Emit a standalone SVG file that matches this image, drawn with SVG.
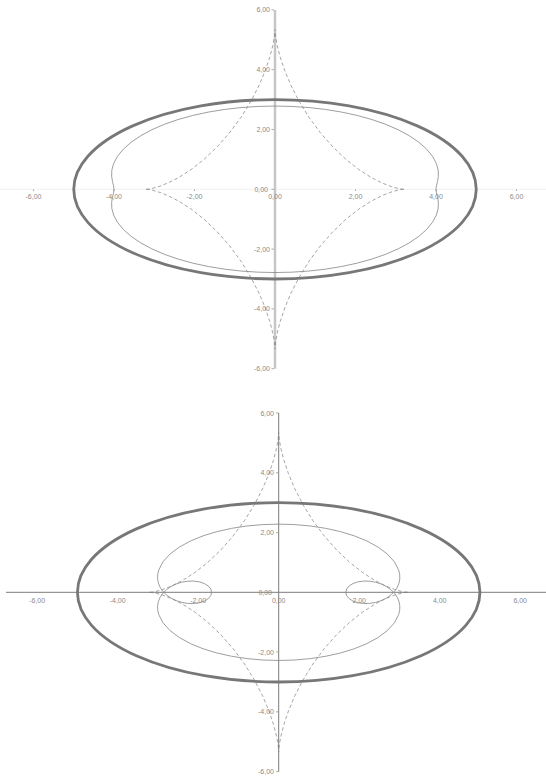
<svg xmlns="http://www.w3.org/2000/svg" xmlns:xlink="http://www.w3.org/1999/xlink" width="546" height="776" viewBox="0 0 546 776">
<style>
.lbl{font-family:"Liberation Sans",Arial,sans-serif;font-size:7px;fill:#8a8a8a}
.xl{text-anchor:middle}
.yl{text-anchor:end}
path,ellipse{vector-effect:non-scaling-stroke}
.ell{fill:none;stroke:#777777;stroke-width:2.8}
.evo{fill:none;stroke:#7e7e7e;stroke-width:0.7;stroke-dasharray:3.5 2.5}
.inn{fill:none;stroke:#858585;stroke-width:0.8}
.tick{stroke:#999;stroke-width:0.8}
</style>
<defs>
<path id="evoQ" vector-effect="non-scaling-stroke" d="M3.2,0 L3.1636,.0035 3.0564,.028 2.8839,.0925 2.6552,.2134 2.3822,.4026 2.0785,.6667 1.7589,1.0064 1.4385,1.4164 1.1314,1.8856 .8499,2.3975 .6038,2.9315 .4,3.4641 .2415,3.9703 .128,4.4254 .0555,4.8065 .0168,5.0939 .0021,5.2726 0,5.3333"/>
<path id="topQ" vector-effect="non-scaling-stroke" d="M4,0 L4.0111,.1201 4.0369,.2602 4.0584,.432 4.0545,.6354 4.0094,.8621 3.9151,1.1006 3.7696,1.3402 3.5756,1.5723 3.3374,1.791 3.06,1.9923 2.7486,2.1736 2.4082,2.333 2.0433,2.4694 1.6583,2.5819 1.2575,2.67 .8449,2.7333 .4244,2.7713 0,2.784"/>
<path id="botQ" vector-effect="non-scaling-stroke" d="M1.6667,0 L1.6875,-.1098 1.7482,-.2099 1.8439,-.2916 1.9669,-.3481 2.1083,-.3754 2.2587,-.3717 2.4091,-.3378 2.5518,-.2761 2.6807,-.1904 2.7912,-.0847 2.8803,.0364 2.9466,.1686 2.9892,.3083 3.0087,.4521 3.0057,.5972 2.9815,.7414 2.8749,1.0203 2.7007,1.2787 2.4703,1.5111 2.1939,1.7144 1.8804,1.8871 1.5375,2.0286 1.1721,2.1386 .7903,2.2172 .3978,2.2643 0,2.28"/>
</defs>

<g id="top-plot">
  <g id="top-axes">
    <line x1="0" y1="189.3" x2="546" y2="189.3" stroke="#f0f0f0" stroke-width="1"/>
    <line x1="275" y1="9.9" x2="275" y2="368.7" stroke="#c6c6c6" stroke-width="2.5"/>
    <g class="tick">
      <line x1="271.5" y1="9.9" x2="274" y2="9.9"/>
      <line x1="271.5" y1="69.7" x2="274" y2="69.7"/>
      <line x1="271.5" y1="129.5" x2="274" y2="129.5"/>
      <line x1="271.5" y1="189.3" x2="274" y2="189.3"/>
      <line x1="271.5" y1="249.1" x2="274" y2="249.1"/>
      <line x1="271.5" y1="308.9" x2="274" y2="308.9"/>
      <line x1="271.5" y1="368.7" x2="274" y2="368.7"/>
      <line x1="33.5" y1="189.3" x2="33.5" y2="191"/>
      <line x1="114" y1="189.3" x2="114" y2="191"/>
      <line x1="194.5" y1="189.3" x2="194.5" y2="191"/>
      <line x1="355.5" y1="189.3" x2="355.5" y2="191"/>
      <line x1="436" y1="189.3" x2="436" y2="191"/>
      <line x1="516.5" y1="189.3" x2="516.5" y2="191"/>
    </g>
    <g class="lbl yl">
      <text x="270" y="12.4">6,00</text>
      <text x="270" y="72.2">4,00</text>
      <text x="270" y="132">2,00</text>
      <text x="268" y="191.8">0,00</text>
      <text x="270" y="251.6">-2,00</text>
      <text x="270" y="311.4">-4,00</text>
      <text x="270" y="371.2">-6,00</text>
    </g>
    <g class="lbl xl">
      <text x="33.5" y="198.5">-6,00</text>
      <text x="114" y="198.5">-4,00</text>
      <text x="194.5" y="198.5">-2,00</text>
      <text x="275" y="198.5">0,00</text>
      <text x="355.5" y="198.5">2,00</text>
      <text x="436" y="198.5">4,00</text>
      <text x="516.5" y="198.5">6,00</text>
    </g>
  </g>
  <g id="top-curves" transform="translate(275,189.3) scale(40.25,-29.9)">
    <ellipse id="top-ellipse" class="ell" cx="0" cy="0" rx="5" ry="3"/>
    <g id="top-evolute" class="evo">
      <use xlink:href="#evoQ"/>
      <use xlink:href="#evoQ" transform="scale(-1,1)"/>
      <use xlink:href="#evoQ" transform="scale(1,-1)"/>
      <use xlink:href="#evoQ" transform="scale(-1,-1)"/>
    </g>
    <g id="top-inner" class="inn">
      <use xlink:href="#topQ"/>
      <use xlink:href="#topQ" transform="scale(-1,1)"/>
      <use xlink:href="#topQ" transform="scale(1,-1)"/>
      <use xlink:href="#topQ" transform="scale(-1,-1)"/>
    </g>
  </g>
</g>

<g id="bottom-plot">
  <g id="bottom-axes">
    <line x1="6" y1="592.3" x2="546" y2="592.3" stroke="#7c7c7c" stroke-width="1"/>
    <line x1="278.7" y1="413" x2="278.7" y2="771.8" stroke="#7c7c7c" stroke-width="1"/>
    <g class="tick">
      <line x1="276" y1="413" x2="278.7" y2="413"/>
      <line x1="276" y1="472.8" x2="278.7" y2="472.8"/>
      <line x1="276" y1="532.6" x2="278.7" y2="532.6"/>
      <line x1="276" y1="652" x2="278.7" y2="652"/>
      <line x1="276" y1="711.8" x2="278.7" y2="711.8"/>
      <line x1="276" y1="771.6" x2="278.7" y2="771.6"/>
    </g>
    <g class="lbl yl">
      <text x="274" y="415.5">6,00</text>
      <text x="274" y="475.3">4,00</text>
      <text x="274" y="535.1">2,00</text>
      <text x="272" y="594.8">0,00</text>
      <text x="274" y="654.5">-2,00</text>
      <text x="274" y="714.3">-4,00</text>
      <text x="274" y="774.1">-6,00</text>
    </g>
    <g class="lbl xl">
      <text x="37.2" y="602.5">-6,00</text>
      <text x="117.7" y="602.5">-4,00</text>
      <text x="198.2" y="602.5">-2,00</text>
      <text x="278.7" y="602.5">0,00</text>
      <text x="359.2" y="602.5">2,00</text>
      <text x="439.7" y="602.5">4,00</text>
      <text x="520.2" y="602.5">6,00</text>
    </g>
  </g>
  <g id="bottom-curves" transform="translate(278.7,592.3) scale(40.25,-29.9)">
    <ellipse id="bottom-ellipse" class="ell" cx="0" cy="0" rx="5" ry="3"/>
    <g id="bottom-evolute" class="evo">
      <use xlink:href="#evoQ"/>
      <use xlink:href="#evoQ" transform="scale(-1,1)"/>
      <use xlink:href="#evoQ" transform="scale(1,-1)"/>
      <use xlink:href="#evoQ" transform="scale(-1,-1)"/>
    </g>
    <g id="bottom-inner" class="inn">
      <use xlink:href="#botQ"/>
      <use xlink:href="#botQ" transform="scale(-1,1)"/>
      <use xlink:href="#botQ" transform="scale(1,-1)"/>
      <use xlink:href="#botQ" transform="scale(-1,-1)"/>
    </g>
  </g>
</g>
</svg>
